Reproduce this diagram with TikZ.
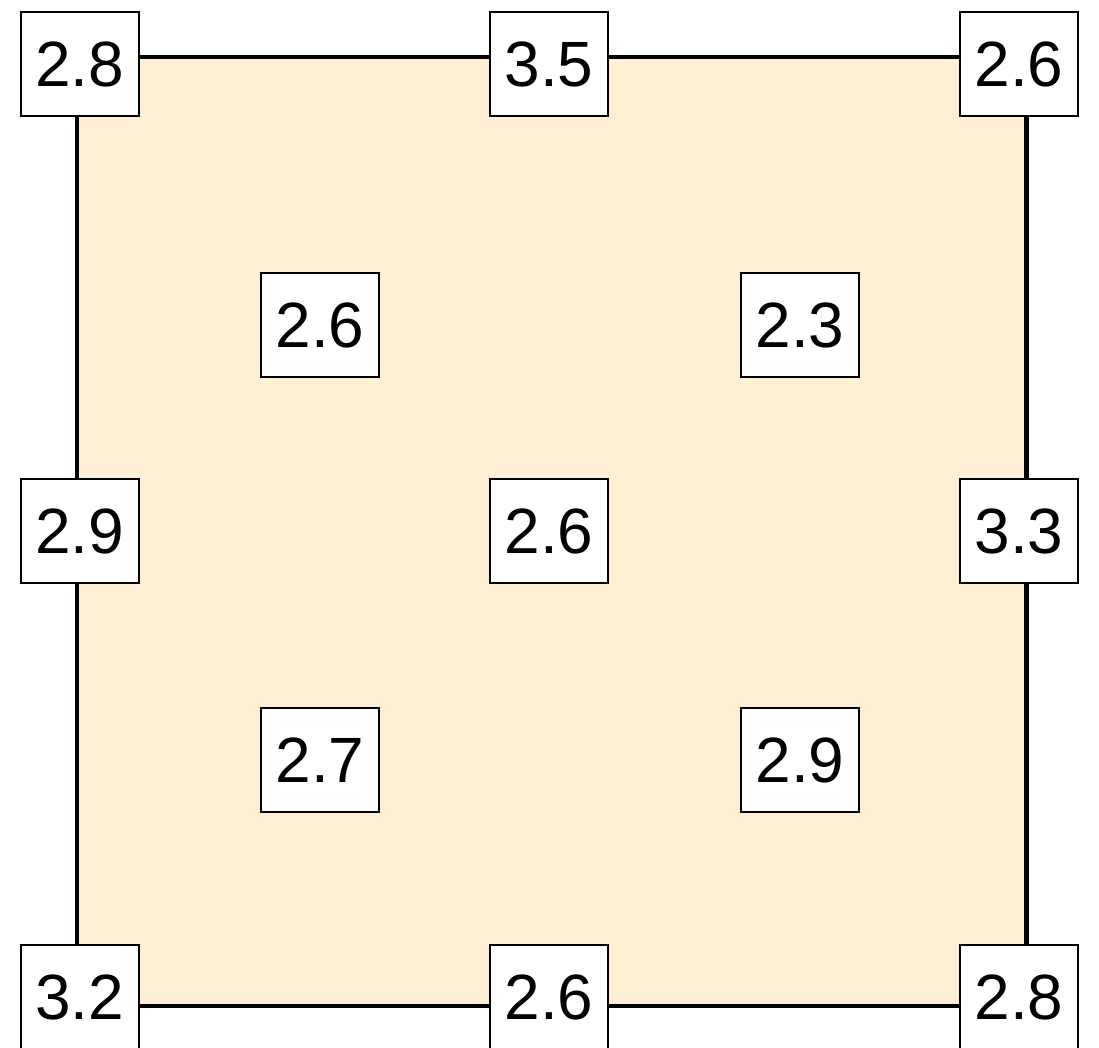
\documentclass[tikz,border=0pt]{standalone}
\usepackage{fontspec}
\setmainfont{Liberation Sans}
\definecolor{cream}{HTML}{FFEFD5}
\tikzset{
  valbox/.style={draw=black, fill=white, line width=2pt, minimum width=118pt, minimum height=104pt,
    inner sep=0pt, font=\fontsize{64}{64}\selectfont, text height=45.8pt, text depth=0pt},
  frame/.style={draw=black, fill=cream, line width=4.3pt}
}
\begin{document}
\begin{tikzpicture}[x=1pt, y=-1pt]
\useasboundingbox (0,0) rectangle (1099,1048);
\coordinate (tl) at (77,57);
\coordinate (br) at (1026.5,1006);
\path[frame] (tl) rectangle (br);
% top row
\node[valbox] (n11) at (79.5,64) {2.8};
\node[valbox] (n12) at (549,64) {3.5};
\node[valbox] (n13) at (1019,64) {2.6};
% interior upper
\node[valbox] (i1) at (320,325) {2.6};
\node[valbox] (i2) at (800,325) {2.3};
% middle row
\node[valbox] (n21) at (79.5,530.5) {2.9};
\node[valbox] (n22) at (549,530.5) {2.6};
\node[valbox] (n23) at (1019,530.5) {3.3};
% interior lower
\node[valbox] (i3) at (320,760) {2.7};
\node[valbox] (i4) at (800,760) {2.9};
% bottom row
\node[valbox] (n31) at (79.5,996.5) {3.2};
\node[valbox] (n32) at (549,996.5) {2.6};
\node[valbox] (n33) at (1019,996.5) {2.8};
\end{tikzpicture}
\end{document}
